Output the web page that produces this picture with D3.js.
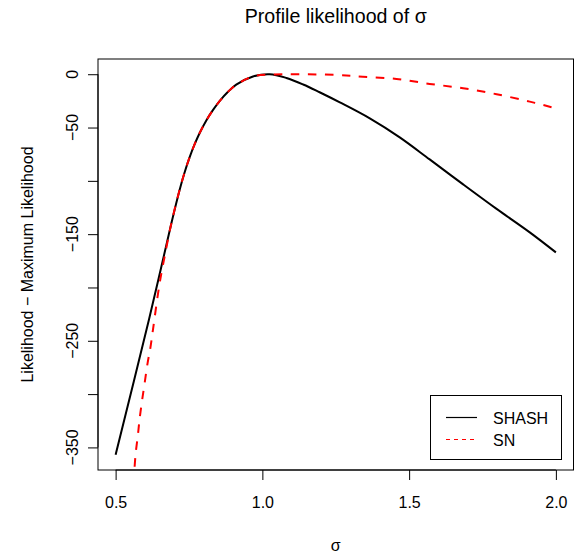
<!DOCTYPE html>
<html>
<head>
<meta charset="utf-8">
<script src="https://cdn.jsdelivr.net/npm/d3@7"></script>
<style>
  body { margin: 0; background: #fff; }
  svg { display: block; font-family: "Liberation Sans", Arial, Helvetica, sans-serif; }
</style>
</head>
<body>
<div id="chart"></div>
<script>

// Profile likelihood curves.
const shashSigma = [0.500, 0.6135, 0.656, 0.690, 0.718, 0.735, 0.752, 0.769, 0.786, 0.809, 0.832, 0.855, 0.883, 0.911, 0.968, 1.025, 1.082, 1.139, 1.195, 1.264, 1.366, 1.468, 1.570, 1.684, 1.798, 1.911, 2.000];
const shashLik   = [-356.9, -230.3, -180.4, -139.7, -108.5, -92.1, -78.0, -65.8, -55.3, -43.3, -33.5, -25.0, -16.5, -9.8, -2.1, 0, -3.5, -9.6, -16.9, -26.4, -41.4, -59.2, -79.9, -103.3, -126.3, -148.3, -167.1];

const snSigma = [0.5648, 0.5682, 0.576, 0.5818, 0.5897, 0.5989, 0.6091, 0.6183, 0.6272, 0.650, 0.667, 0.690, 0.718, 0.735, 0.752, 0.769, 0.786, 0.809, 0.832, 0.855, 0.883, 0.911, 0.968, 1.030, 1.120, 1.252, 1.342, 1.457, 1.570, 1.684, 1.798, 1.911, 1.985, 2.000];
const snLik   = [-368.1, -356.0, -338.2, -323.2, -306.9, -289.7, -270.7, -256.9, -239.7, -196.0, -171.0, -139.7, -108.5, -92.1, -78.0, -65.8, -55.3, -43.3, -33.5, -25.0, -16.5, -9.8, -2.1, -0.3, 0, -0.7, -2.3, -4.4, -9.1, -13.1, -18.75, -25.7, -30.9, -32.0];

const xTicks = [0.5, 1.0, 1.5, 2.0];
const xTickLabels = ["0.5", "1.0", "1.5", "2.0"];
const yTicks = [0, -50, -100, -150, -200, -250, -300, -350];
const yTickLabels = ["0", "\u221250", "", "\u2212150", "", "\u2212250", "", "\u2212350"];

const legendNames = ["SHASH", "SN"];
const legendColors = ["#000000", "#ff0000"];
const legendDash = [null, "4,4"];

function createProfileChart(width, height) {

    // Plot region, as in R's default margins.
    const left = 98, right = 573.5, top = 59, bottom = 470;

    // R pads the data range by 4% on each side.
    const pad = ([a, b]) => [a - 0.04 * (b - a), b + 0.04 * (b - a)];

    const x = d3.scaleLinear()
        .domain(pad(d3.extent(shashSigma)))
        .range([left, right]);

    const y = d3.scaleLinear()
        .domain(pad(d3.extent(shashLik)))
        .range([bottom, top]);

    const svg = d3.create("svg")
        .attr("width", width)
        .attr("height", height)
        .attr("viewBox", [0, 0, width, height]);

    svg.append("clipPath")
        .attr("id", "plot-clip")
        .append("rect")
        .attr("x", left)
        .attr("y", top)
        .attr("width", right - left)
        .attr("height", bottom - top);

    const line = d3.line()
        .x(d => x(d[0]))
        .y(d => y(d[1]))
        .curve(d3.curveCatmullRom.alpha(0.5));

    const curves = svg.append("g").attr("clip-path", "url(#plot-clip)");

    curves.append("path")
        .datum(shashSigma.map((s, i) => [s, shashLik[i]]))
        .attr("fill", "none")
        .attr("stroke", "black")
        .attr("stroke-width", 2)
        .attr("d", line);

    curves.append("path")
        .datum(snSigma.map((s, i) => [s, snLik[i]]))
        .attr("fill", "none")
        .attr("stroke", "red")
        .attr("stroke-width", 2)
        .attr("stroke-dasharray", "8.5,8.5")
        .attr("d", line);

    // Box around the plot region.
    svg.append("rect")
        .attr("x", left)
        .attr("y", top)
        .attr("width", right - left)
        .attr("height", bottom - top)
        .attr("fill", "none")
        .attr("stroke", "black");

    // x axis
    const xAxis = svg.append("g")
        .attr("transform", `translate(0,${bottom})`)
        .call(d3.axisBottom(x)
            .tickValues(xTicks)
            .tickSize(10)
            .tickPadding(0)
            .tickFormat((d, i) => xTickLabels[i]));
    xAxis.select(".domain")
        .attr("d", `M${x(xTicks[0])},0H${x(xTicks[xTicks.length - 1])}`);
    xAxis.selectAll(".tick text")
        .attr("y", 38)
        .attr("dy", null)
        .style("font-size", "16px")
        .style("font-family", null)
        .attr("fill", "black");

    // y axis, labels drawn parallel to the axis
    const yAxis = svg.append("g")
        .attr("transform", `translate(${left},0)`)
        .call(d3.axisLeft(y)
            .tickValues(yTicks)
            .tickSize(10)
            .tickFormat(""));
    yAxis.select(".domain")
        .attr("d", `M0,${y(yTicks[0])}V${y(yTicks[yTicks.length - 1])}`);
    yAxis.selectAll(".tick text").remove();

    svg.append("g")
        .selectAll("text")
        .data(yTicks)
        .join("text")
        .attr("transform", d => `translate(77.5,${y(d)}) rotate(-90)`)
        .attr("text-anchor", "middle")
        .style("font-size", "16px")
        .text((d, i) => yTickLabels[i]);

    // Titles
    svg.append("text")
        .attr("x", (left + right) / 2)
        .attr("y", 23.3)
        .attr("text-anchor", "middle")
        .style("font-size", "19.6px")
        .text("Profile likelihood of \u03c3");

    svg.append("text")
        .attr("x", (left + right) / 2)
        .attr("y", 550.5)
        .attr("text-anchor", "middle")
        .style("font-size", "16px")
        .text("\u03c3");

    svg.append("text")
        .attr("transform", `translate(33.3,${(top + bottom) / 2}) rotate(-90)`)
        .attr("text-anchor", "middle")
        .style("font-size", "16px")
        .text("Likelihood \u2212 Maximum Likelihood");

    // Legend in the bottom right corner
    const legend = svg.append("g");
    legend.append("rect")
        .attr("x", 430.5)
        .attr("y", 395.5)
        .attr("width", 131)
        .attr("height", 64)
        .attr("fill", "white")
        .attr("stroke", "black");

    legendNames.forEach((name, i) => {
        const ly = 417.5 + i * 22;
        legend.append("path")
            .attr("d", `M446,${ly}H477`)
            .attr("fill", "none")
            .style("stroke", legendColors[i])
            .style("stroke-width", 1.2)
            .style("stroke-dasharray", legendDash[i]);
        legend.append("text")
            .attr("x", 493)
            .attr("y", ly + 6.5)
            .style("font-size", "16px")
            .text(name);
    });

    return svg.node();
}

document.getElementById("chart").appendChild(createProfileChart(585, 556));
</script>
</body>
</html>
